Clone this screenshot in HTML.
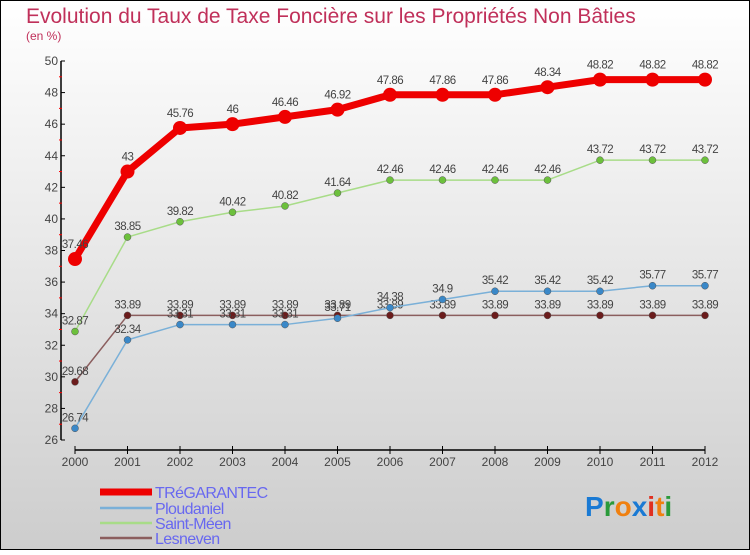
<!DOCTYPE html>
<html><head><meta charset="utf-8"><style>
body{margin:0}
svg text{font-family:"Liberation Sans",sans-serif}
</style></head><body>
<svg width="750" height="550" xmlns="http://www.w3.org/2000/svg">
<defs><linearGradient id="bg" x1="0" y1="0" x2="0" y2="1"><stop offset="0" stop-color="#ffffff"/><stop offset="1" stop-color="#cdcdcd"/></linearGradient></defs>
<rect x="0.5" y="0.5" width="749" height="549" fill="url(#bg)" stroke="#000"/>
<text x="26" y="23" font-size="21" fill="#c0305a">Evolution du Taux de Taxe Foncière sur les Propriétés Non Bâties</text>
<text x="26" y="40" font-size="12" fill="#c0305a">(en %)</text>
<g id="axes"></g>
<g id="series"></g>
<g id="legend"></g>
<text x="585" y="516" font-size="28" font-weight="bold"><tspan fill="#1a7ad4">P</tspan><tspan fill="#2a9a3a">r</tspan><tspan fill="#f08010">o</tspan><tspan fill="#1a7ad4">x</tspan><tspan fill="#e03020">i</tspan><tspan fill="#f08010">t</tspan><tspan fill="#2a9a3a">i</tspan></text>
</svg>
<script>
const years=[2000,2001,2002,2003,2004,2005,2006,2007,2008,2009,2010,2011,2012];
const yTicks=[26,28,30,32,34,36,38,40,42,44,46,48,50];
const tregarantec=[37.46,43,45.76,46,46.46,46.92,47.86,47.86,47.86,48.34,48.82,48.82,48.82];
const ploudaniel=[26.74,32.34,33.31,33.31,33.31,33.71,34.38,34.9,35.42,35.42,35.42,35.77,35.77];
const saintMeen=[32.87,38.85,39.82,40.42,40.82,41.64,42.46,42.46,42.46,42.46,43.72,43.72,43.72];
const lesneven=[29.68,33.89,33.89,33.89,33.89,33.89,33.89,33.89,33.89,33.89,33.89,33.89,33.89];
const names=["TRéGARANTEC","Ploudaniel","Saint-Méen","Lesneven"];
const NS="http://www.w3.org/2000/svg";
const x=i=>75+i*(705-75)/(years.length-1);
const y=v=>61+(50-v)*(440-61)/24;
function mk(tag,attrs,parent){const e=document.createElementNS(NS,tag);for(const k in attrs)e.setAttribute(k,attrs[k]);parent.appendChild(e);return e;}
const ax=document.getElementById('axes');
let yl=mk('line',{x1:61,y1:61,x2:61,y2:440,stroke:'#000','stroke-width':1.5},ax);


yTicks.forEach((t,i)=>{
 mk('line',{x1:61,y1:y(t),x2:65,y2:y(t),stroke:'#000'},ax);
 if(i<yTicks.length-1)mk('line',{x1:59,y1:y(t+1),x2:62,y2:y(t+1),stroke:'#f00'},ax);
 const tx=mk('text',{x:58,y:y(t)+4,'font-size':12,fill:'#444','text-anchor':'end'},ax);tx.textContent=t;
 
 
});
let xl=mk('line',{x1:75,y1:450,x2:705,y2:450,stroke:'#000','stroke-width':1.5},ax);


years.forEach((yr,i)=>{
 mk('line',{x1:x(i),y1:446,x2:x(i),y2:454,stroke:'#000'},ax);
 const tx=mk('text',{x:x(i),y:466,'font-size':12,fill:'#444','text-anchor':'middle'},ax);tx.textContent=yr;
 
 
});
const sg=document.getElementById('series');
const defs=[[lesneven,'#8b5e5e','#6b1c1c',1.5,3.5,'lesneven'],[saintMeen,'#a8dc88','#6cc03c',1.5,3.5,'saint-meen'],[ploudaniel,'#7ab0d8','#3a88c8',1.5,3.5,'ploudaniel'],[tregarantec,'#ee0000','#ee0000',7,7,'tregarantec']];
defs.forEach(([d,lc,pc,w,r,n])=>{
 const g=mk('g',{},sg);
 
 
 const p=mk('polyline',{points:d.map((v,i)=>x(i)+','+y(v)).join(' '),fill:'none',stroke:lc,'stroke-width':w,'stroke-linejoin':'round'},g);
 
 
 d.forEach((v,i)=>{
  const c=mk('circle',{cx:x(i),cy:y(v),r:r,fill:pc,stroke:w>5?'none':'#555','stroke-width':0.5},g);
  
  
  const t=mk('text',{x:x(i),y:y(v)-(w>5?11:7),'font-size':11.5,fill:'#444','text-anchor':'middle','letter-spacing':'-0.5'},g);t.textContent=String(v);
  
  
 });
});
const lg=document.getElementById('legend');
const lcol=['#ee0000','#7ab0d8','#a8dc88','#8b5e5e'];const lw=[7,2.5,2.5,2.5];const ly=[492,508,523,538];
names.forEach((nm,i)=>{
 const g=mk('g',{},lg);
 
 
 mk('line',{x1:100,y1:ly[i],x2:152,y2:ly[i],stroke:lcol[i],'stroke-width':lw[i]},g);
 const t=mk('text',{x:155,y:ly[i]+6,'font-size':16,fill:'#6868f0','letter-spacing':'-0.6'},g);t.textContent=nm;
});
</script>
</body></html>
